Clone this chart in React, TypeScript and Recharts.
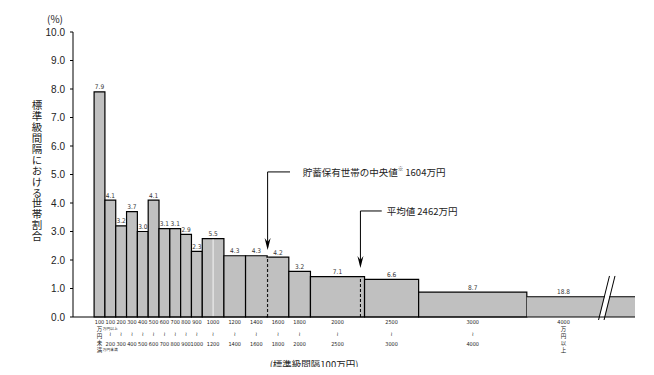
import React from 'react';
import {
  ComposedChart,
  XAxis,
  YAxis,
  Scatter,
  ReferenceArea,
  ReferenceLine,
  ReferenceDot,
  Customized,
} from 'recharts';

// ---- data ----
const binStart = [0, 100, 200, 300, 400, 500, 600, 700, 800, 900, 1000, 1200, 1400, 1600, 1800, 2000, 2500, 3000, 4000];
const binEnd = [100, 200, 300, 400, 500, 600, 700, 800, 900, 1000, 1200, 1400, 1600, 1800, 2000, 2500, 3000, 4000, 5000];
// share of households in each class (%), printed above the bars
const sharePct = [7.9, 4.1, 3.2, 3.7, 3.0, 4.1, 3.1, 3.1, 2.9, 2.3, 5.5, 4.3, 4.3, 4.2, 3.2, 7.1, 6.6, 8.7, 18.8];
// share per standard class width (100万円) – bar heights
const densityPct = [7.9, 4.1, 3.2, 3.7, 3.0, 4.1, 3.1, 3.1, 2.9, 2.3, 2.75, 2.15, 2.15, 2.1, 1.6, 1.42, 1.32, 0.87, 0.71];
const tickTop = ['100', '100', '200', '300', '400', '500', '600', '700', '800', '900', '1000', '1200', '1400', '1600', '1800', '2000', '2500', '3000', '4000'];
const tickBottom = ['', '200', '300', '400', '500', '600', '700', '800', '900', '1000', '1200', '1400', '1600', '1800', '2000', '2500', '3000', '4000', ''];
const firstColText = '万円未満';
const lastColText = '万円以上';
const yTicks = [0, 1, 2, 3, 4, 5, 6, 7, 8, 9, 10];
const MEDIAN = 1604;
const MEAN = 2462;
const medianText = '貯蓄保有世帯の中央値';
const medianValue = ' 1604万円';
const meanText = '平均値 2462万円';
const yTitle = '標準級間隔における世帯割合';
const xTitle = '(標準級間隔100万円)';

const LAST = binStart.length - 1;
const labelX = binStart.map((s, i) => (i === LAST ? s + 340 : (s + binEnd[i]) / 2));
const labelData = binStart.map((_, i) => ({ x: labelX[i], y: densityPct[i], pct: sharePct[i].toFixed(1) }));

const NUM_FONT = "'Liberation Sans Narrow', 'DejaVu Sans Condensed', 'Liberation Sans', sans-serif";
const JP_FONT = "'Noto Sans CJK JP', 'Noto Sans', sans-serif";
const BAR_FILL = '#c0c0c0';
const TEXT = '#222';

const XTick = (props: any) => {
  const { x, y, payload } = props;
  let i = labelX.indexOf(payload.value);
  if (i < 0) i = props.index ?? 0;
  if (i === 0 || i === LAST) {
    const col = i === 0 ? firstColText : lastColText;
    return (
      <g>
        <text x={x} y={y + 5} textAnchor="middle" dominantBaseline="central" fontSize={5.5} fill={TEXT} fontFamily={NUM_FONT}>
          {tickTop[i]}
        </text>
        <text
          x={x}
          y={y + 9}
          fontSize={5.5}
          fill={TEXT}
          fontFamily={JP_FONT}
          style={{ writingMode: 'vertical-rl' as any, letterSpacing: '1.6px' }}
        >
          {col}
        </text>
      </g>
    );
  }
  return (
    <g>
      <text x={x} y={y + 5} textAnchor="middle" dominantBaseline="central" fontSize={5.5} fill={TEXT} fontFamily={NUM_FONT}>
        {tickTop[i]}
      </text>
      {i === 1 && (
        <text x={x} y={y + 11} textAnchor="middle" dominantBaseline="central" fontSize={3.8} fill={TEXT} fontFamily={JP_FONT}>
          万円以上
        </text>
      )}
      <text x={x} y={y + 16.5} textAnchor="middle" dominantBaseline="central" fontSize={5.5} fill={TEXT} fontFamily="'DejaVu Sans', sans-serif">
        ≀
      </text>
      <text x={x} y={y + 27} textAnchor="middle" dominantBaseline="central" fontSize={5.5} fill={TEXT} fontFamily={NUM_FONT}>
        {tickBottom[i]}
      </text>
      {i === 1 && (
        <text x={x} y={y + 32.5} textAnchor="middle" dominantBaseline="central" fontSize={3.8} fill={TEXT} fontFamily={JP_FONT}>
          万円未満
        </text>
      )}
    </g>
  );
};

const BarLabel = (props: any) => {
  const { cx, cy, payload } = props;
  return (
    <text x={cx} y={cy - 2.5} textAnchor="middle" fontSize={6.5} fill="#333" fontFamily={NUM_FONT}>
      {payload.pct}
    </text>
  );
};

const arrowHead = (p: any) => (
  <path d={`M${p.cx - 3},${p.cy - 12}L${p.cx},${p.cy}L${p.cx + 3},${p.cy - 12}L${p.cx},${p.cy - 8}Z`} fill="#000" />
);

const StaticText = () => (
  <g>
    <text x={55} y={18} textAnchor="middle" dominantBaseline="central" fontSize={10} fill={TEXT} fontFamily={JP_FONT}>
      (%)
    </text>
    <text
      x={37}
      y={171}
      textAnchor="middle"
      fontSize={10.5}
      fill={TEXT}
      fontFamily={JP_FONT}
      style={{ writingMode: 'vertical-rl' as any, letterSpacing: '0.4px' }}
    >
      {yTitle}
    </text>
    <text x={314} y={364} textAnchor="middle" dominantBaseline="central" fontSize={9.5} fill={TEXT} fontFamily={JP_FONT}>
      {xTitle}
    </text>
  </g>
);

export default function App() {
  return (
    <div style={{ margin: -8 }}>
      <ComposedChart width={654} height={375} data={labelData} margin={{ top: 32, right: 19, bottom: 0, left: 0 }}>
        <XAxis
          dataKey="x"
          type="number"
          domain={[-195, 5000]}
          allowDataOverflow
          ticks={labelX}
          interval={0}
          tick={<XTick />}
          tickLine={false}
          tickSize={0}
          tickMargin={0}
          height={58}
          axisLine={{ stroke: '#000', strokeWidth: 1 }}
        />
        <YAxis
          dataKey="y"
          type="number"
          domain={[0, 10]}
          ticks={yTicks}
          interval={0}
          width={73}
          tickSize={3}
          tickMargin={5}
          tickFormatter={(v: number) => v.toFixed(1)}
          tick={{ fontSize: 10, fill: TEXT, fontFamily: "'Liberation Sans', sans-serif" }}
          tickLine={{ stroke: '#000' }}
          axisLine={{ stroke: '#000', strokeWidth: 1 }}
        />
        {binStart.map((s, i) => (
          <ReferenceArea
            key={`bar-${i}`}
            x1={s}
            x2={binEnd[i]}
            y1={0}
            y2={densityPct[i]}
            fill={BAR_FILL}
            fillOpacity={1}
            stroke={i === LAST ? 'none' : '#000'}
            strokeWidth={1.2}
            ifOverflow="visible"
          />
        ))}
        <ReferenceLine
          segment={[{ x: binStart[LAST], y: densityPct[LAST] }, { x: binEnd[LAST], y: densityPct[LAST] }]}
          stroke="#000"
          strokeWidth={1.2}
          ifOverflow="visible"
        />
        {/* white seam inside 1000-1200 class */}
        <ReferenceLine segment={[{ x: 1100, y: 0.03 }, { x: 1100, y: 2.72 }]} stroke="#f4f4f4" strokeWidth={1} ifOverflow="visible" />
        {/* median & mean dashed markers */}
        <ReferenceLine segment={[{ x: 1601, y: 0.03 }, { x: 1601, y: 2.08 }]} stroke={BAR_FILL} strokeWidth={2.5} ifOverflow="visible" />
        <ReferenceLine segment={[{ x: MEDIAN, y: 0 }, { x: MEDIAN, y: 2.1 }]} stroke="#000" strokeWidth={1} strokeDasharray="3 2" ifOverflow="visible" />
        <ReferenceLine segment={[{ x: MEAN, y: 0 }, { x: MEAN, y: 1.42 }]} stroke="#000" strokeWidth={1} strokeDasharray="3 2" ifOverflow="visible" />
        {/* annotation arrows */}
        <ReferenceLine segment={[{ x: MEDIAN, y: 5.09 }, { x: 1811, y: 5.09 }]} stroke="#000" strokeWidth={1} ifOverflow="visible" />
        <ReferenceLine segment={[{ x: MEDIAN, y: 5.09 }, { x: MEDIAN, y: 2.45 }]} stroke="#000" strokeWidth={1} ifOverflow="visible" />
        <ReferenceLine segment={[{ x: MEAN, y: 3.72 }, { x: 2659, y: 3.72 }]} stroke="#000" strokeWidth={1} ifOverflow="visible" />
        <ReferenceLine segment={[{ x: MEAN, y: 3.72 }, { x: MEAN, y: 1.82 }]} stroke="#000" strokeWidth={1} ifOverflow="visible" />
        {/* axis break marks */}
        <ReferenceLine segment={[{ x: 4688, y: -0.105 }, { x: 4789, y: 1.44 }]} stroke="#fff" strokeWidth={4.3} ifOverflow="visible" />
        <ReferenceLine segment={[{ x: 4663, y: -0.105 }, { x: 4764, y: 1.44 }]} stroke="#000" strokeWidth={1} ifOverflow="visible" />
        <ReferenceLine segment={[{ x: 4714, y: -0.105 }, { x: 4815, y: 1.44 }]} stroke="#000" strokeWidth={1} ifOverflow="visible" />
        <ReferenceDot x={MEDIAN} y={2.35} r={0} ifOverflow="visible" shape={arrowHead} />
        <ReferenceDot x={MEAN} y={1.72} r={0} ifOverflow="visible" shape={arrowHead} />
        <ReferenceDot
          x={1928}
          y={5.09}
          r={0}
          ifOverflow="visible"
          shape={(p: any) => (
            <text x={p.cx} y={p.cy} dominantBaseline="central" fontSize={9.5} fill={TEXT} fontFamily={JP_FONT}>
              {medianText}
              <tspan fontSize={5.5} dy={-3}>※</tspan>
              <tspan dy={3}>{medianValue}</tspan>
            </text>
          )}
        />
        <ReferenceDot
          x={2705}
          y={3.72}
          r={0}
          ifOverflow="visible"
          shape={(p: any) => (
            <text x={p.cx} y={p.cy} dominantBaseline="central" fontSize={9.5} fill={TEXT} fontFamily={JP_FONT}>
              {meanText}
            </text>
          )}
        />
        <Scatter dataKey="y" data={labelData} isAnimationActive={false} shape={<BarLabel />} />
        <Customized component={StaticText} />
      </ComposedChart>
    </div>
  );
}
